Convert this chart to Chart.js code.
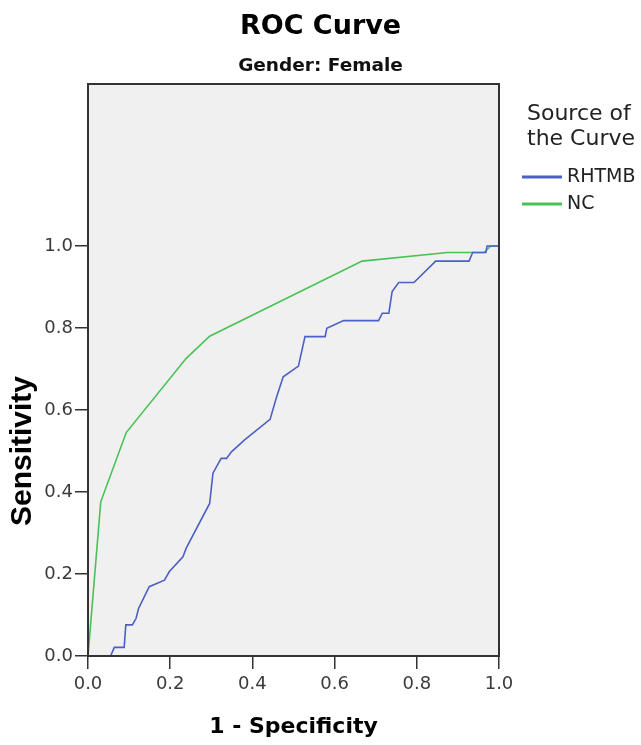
<!DOCTYPE html>
<html>
<head>
<meta charset="utf-8">
<title>ROC Curve</title>
<script src="https://cdn.jsdelivr.net/npm/chart.js@4.4.1/dist/chart.umd.min.js"></script>
<style>
  html, body { margin: 0; padding: 0; background: #fff; }
</style>
</head>
<body>
<canvas id="rocChart" width="641" height="745"></canvas>
<script>
// texts
const chartTitle = 'ROC Curve';
const chartSubtitle = 'Gender: Female';
const xTitle = '1 - Specificity';
const yTitle = 'Sensitivity';
const legendTitle = ['Source of', 'the Curve'];

// series
const seriesNames = ['RHTMB', 'NC'];
const seriesColors = ['#4b60c3', '#48c257'];
const tickValues = [0, 0.2, 0.4, 0.6, 0.8, 1.0];

// RHTMB curve
const rhtmbFpr = [0, 0.055, 0.064, 0.088, 0.092, 0.108, 0.117, 0.123, 0.149, 0.186, 0.198, 0.231, 0.239,
  0.296, 0.304, 0.324, 0.337, 0.349, 0.381, 0.443, 0.459, 0.475, 0.512, 0.528, 0.577, 0.581, 0.622,
  0.707, 0.716, 0.732, 0.740, 0.756, 0.793, 0.846, 0.927, 0.936, 0.968, 0.971, 1.0];
const rhtmbTpr = [0, 0, 0.021, 0.021, 0.076, 0.076, 0.092, 0.116, 0.169, 0.185, 0.206, 0.242, 0.263,
  0.372, 0.446, 0.482, 0.482, 0.498, 0.527, 0.577, 0.632, 0.681, 0.707, 0.779, 0.779, 0.799, 0.818,
  0.818, 0.836, 0.836, 0.889, 0.911, 0.911, 0.963, 0.963, 0.984, 0.984, 1.0, 1.0];

// NC curve
const ncFpr = [0, 0.031, 0.093, 0.239, 0.296, 0.667, 0.875, 0.964, 0.98, 1.0];
const ncTpr = [0, 0.376, 0.545, 0.726, 0.78, 0.963, 0.984, 0.984, 1.0, 1.0];

const toPoints = (xs, ys) => xs.map((x, i) => ({ x: x, y: ys[i] }));

const tickFont = { family: 'DejaVu Sans', size: 18 };
const tickColor = '#3a3a3a';

// plot background, frame, y title and the legend at the right
const rocDecor = {
  id: 'rocDecor',
  beforeDraw(chart) {
    const { ctx, chartArea: a } = chart;
    ctx.save();
    ctx.fillStyle = '#f0f0f0';
    ctx.fillRect(a.left, a.top, a.width, a.height);
    ctx.restore();
  },
  afterDatasetsDraw(chart) {
    const { ctx, chartArea: a } = chart;
    const y = chart.scales.y;
    ctx.save();
    ctx.strokeStyle = '#333';
    ctx.lineWidth = 2;
    ctx.strokeRect(a.left, a.top, a.width, a.height);

    // y title centred on the 0..1 range
    const mid = (y.getPixelForValue(0) + y.getPixelForValue(1)) / 2;
    ctx.translate(22.5, mid);
    ctx.rotate(-Math.PI / 2);
    ctx.font = 'bold 30px "Liberation Sans"';
    ctx.fillStyle = '#000';
    ctx.textAlign = 'center';
    ctx.textBaseline = 'middle';
    ctx.fillText(yTitle, 0, 0);
    ctx.restore();

    // legend
    ctx.save();
    ctx.fillStyle = '#222';
    ctx.font = '22px "DejaVu Sans"';
    ctx.textBaseline = 'alphabetic';
    legendTitle.forEach((t, i) => ctx.fillText(t, 527, 120 + i * 25));
    ctx.font = '19px "DejaVu Sans"';
    ctx.textBaseline = 'middle';
    chart.data.datasets.forEach((ds, i) => {
      const ly = 177 + i * 27;
      ctx.strokeStyle = ds.borderColor;
      ctx.lineWidth = 3;
      ctx.beginPath();
      ctx.moveTo(522, ly);
      ctx.lineTo(562, ly);
      ctx.stroke();
      ctx.fillText(ds.label, 567, ly);
    });
    ctx.restore();
  }
};

const ctx = document.getElementById('rocChart').getContext('2d');
const chart = new Chart(ctx, {
  type: 'scatter',
  data: {
    datasets: [
      {
        label: seriesNames[0],
        data: toPoints(rhtmbFpr, rhtmbTpr),
        borderColor: seriesColors[0],
        backgroundColor: seriesColors[0],
        showLine: true,
        pointRadius: 0,
        borderWidth: 1.6,
        tension: 0
      },
      {
        label: seriesNames[1],
        data: toPoints(ncFpr, ncTpr),
        borderColor: seriesColors[1],
        backgroundColor: seriesColors[1],
        showLine: true,
        pointRadius: 0,
        borderWidth: 1.6,
        tension: 0
      }
    ]
  },
  options: {
    responsive: false,
    animation: false,
    layout: { padding: 0 },
    scales: {
      x: {
        type: 'linear',
        min: 0,
        max: 1,
        afterBuildTicks: s => { s.ticks = tickValues.map(v => ({ value: v })); },
        afterFit: s => { s.height = 89; },
        ticks: { callback: v => v.toFixed(1), font: tickFont, color: tickColor, padding: 5, maxRotation: 0 },
        grid: { drawOnChartArea: false, drawTicks: true, tickLength: 13, color: '#333', lineWidth: 1.5 },
        border: { display: false },
        title: {
          display: true,
          text: xTitle,
          color: '#000',
          font: { family: 'DejaVu Sans', size: 22, weight: 'bold' },
          padding: { top: 0, bottom: 5 }
        }
      },
      y: {
        type: 'linear',
        min: 0,
        max: 1.395,
        afterBuildTicks: s => { s.ticks = tickValues.map(v => ({ value: v })); },
        afterFit: s => { s.width = 88; },
        ticks: { callback: v => v.toFixed(1), font: tickFont, color: tickColor, padding: 2 },
        grid: { drawOnChartArea: false, drawTicks: true, tickLength: 13, color: '#333', lineWidth: 1.5 },
        border: { display: false }
      },
      // empty right axis only to keep room for the legend
      y2: {
        type: 'linear',
        position: 'right',
        display: true,
        afterFit: s => { s.width = 142; },
        ticks: { display: false },
        grid: { display: false },
        border: { display: false }
      }
    },
    plugins: {
      legend: { display: false },
      tooltip: { enabled: false },
      title: {
        display: true,
        text: chartTitle,
        color: '#000',
        font: { family: 'DejaVu Sans', size: 27, weight: 'bold' },
        padding: { top: 10.8, bottom: 12.2 }
      },
      subtitle: {
        display: true,
        text: chartSubtitle,
        color: '#111',
        font: { family: 'DejaVu Sans', size: 18.5, weight: 'bold' },
        padding: { top: 0, bottom: 6.4 }
      }
    }
  },
  plugins: [rocDecor]
});
</script>
</body>
</html>
